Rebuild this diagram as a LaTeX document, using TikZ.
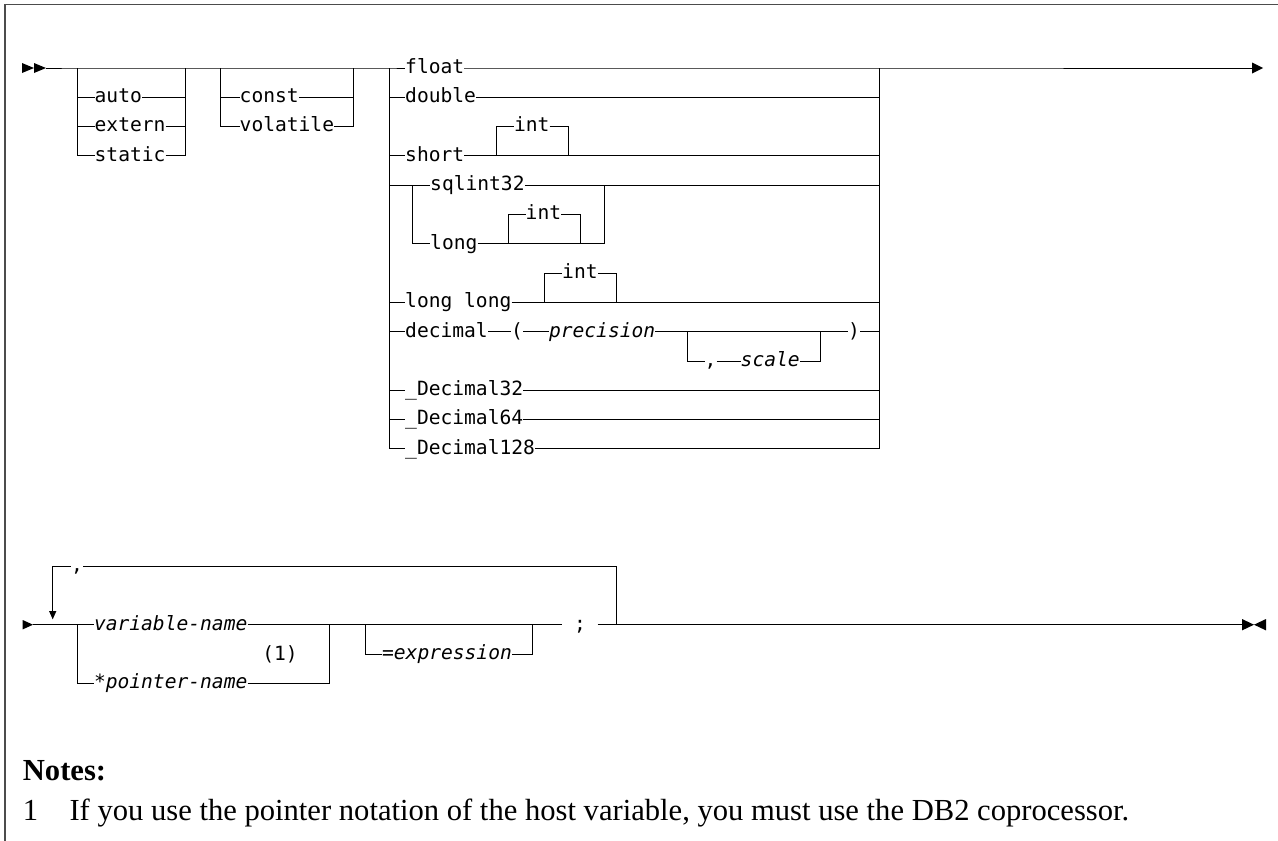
\documentclass[tikz,border=0pt]{standalone}
\usepackage{fontspec}
\setmainfont{Liberation Serif}
\newfontfamily\dmono{DejaVu Sans Mono}
\tikzset{
  rr/.style={line width=0.9pt, black},
  kw/.style={font={\dmono\fontsize{19.6}{22}\selectfont}, inner sep=0pt,
     text height=15pt, text depth=4.3pt, anchor=west},
  var/.style={kw, font={\dmono\fontsize{19.6}{22}\selectfont\itshape}},
  tipmark/.style={fill=black},
  framestyle/.style={line width=1.3pt, gray!60!black},
  notetext/.style={font={\fontsize{30.6}{36}\selectfont}, inner sep=0pt, anchor=base west},
}
\begin{document}
\begin{tikzpicture}[x=1pt,y=-1pt]
\useasboundingbox (0,0) rectangle (1278,841);
\draw[framestyle] (5,841) -- (5,4.7) -- (1278,4.7);

% ---------- upper diagram ----------
\fill[tipmark] (22,63) -- (34,68) -- (22,73) -- cycle;
\fill[tipmark] (34,63) -- (46,68) -- (34,73) -- cycle;
\coordinate (st) at (46,68);
\coordinate (g1L) at (77,68);
\coordinate (g1R) at (185,68);
\coordinate (g2L) at (220,68);
\coordinate (g2R) at (353,68);
\coordinate (g3L) at (389,68);
\coordinate (g3R) at (879,68);
\coordinate (endtop) at (1252,68);
\fill[tipmark] (1252,62.5) -- (1263,68) -- (1252,73.5) -- cycle;

% group 1
\node[kw] (auto) at (94.5,97.3) {auto};
\node[kw] (extern) at (94.5,126.6) {extern};
\node[kw] (static) at (94.5,155.9) {static};
\draw[rr] (g1L) -- (g1L |- static.west) -- (static.west);
\draw[rr] (g1L |- auto.west) -- (auto.west);
\draw[rr] (g1L |- extern.west) -- (extern.west);
\draw[rr] (static.east) -- (g1R |- static.east) -- (g1R);
\draw[rr] (auto.east) -- (g1R |- auto.east);
\draw[rr] (extern.east) -- (g1R |- extern.east);

% group 2
\node[kw] (const) at (239.5,97.3) {const};
\node[kw] (volatile) at (239.5,126.6) {volatile};
\draw[rr] (g2L) -- (g2L |- volatile.west) -- (volatile.west);
\draw[rr] (g2L |- const.west) -- (const.west);
\draw[rr] (volatile.east) -- (g2R |- volatile.east) -- (g2R);
\draw[rr] (const.east) -- (g2R |- const.east);

% group 3 texts
\node[kw] (float) at (405,68) {float};
\node[kw] (double) at (405,97.3) {double};
\node[kw] (short) at (405,155.9) {short};
\node[kw] (sint) at (513.8,126.6) {int};
\node[kw] (sqlint) at (430,185.2) {sqlint32};
\node[kw] (long) at (430,243.8) {long};
\node[kw] (lint) at (525.5,214.5) {int};
\node[kw] (longlong) at (405,302.4) {long long};
\node[kw] (llint) at (562,273.1) {int};
\node[kw] (decimal) at (405,331.7) {decimal};
\node[kw] (lp) at (511,331.7) {(};
\node[var] (prec) at (548.8,331.7) {precision};
\node[kw] (rp) at (848,331.7) {)};
\node[kw] (cm) at (704.5,361) {,};
\node[var] (scale) at (740.5,361) {scale};
\node[kw] (d32) at (405,390.3) {\_Decimal32};
\node[kw] (d64) at (405,419.6) {\_Decimal64};
\node[kw] (d128) at (405,448.9) {\_Decimal128};

% main line
\draw[rr] (st) -- (g1L) -- (g1R) -- (g2L) -- (g2R) -- (g3L) -- (float.west);
\draw[rr] (float.east) -- (g3R) -- (endtop);

% group 3 left and right rails
\draw[rr] (g3L) -- (g3L |- d128.west) -- (d128.west);
\draw[rr] (d128.east) -- (g3R |- d128.east) -- (g3R);
\foreach \n in {double,short,longlong,decimal,d32,d64}{
  \draw[rr] (g3L |- \n.west) -- (\n.west);
}
\foreach \n in {double,short,longlong,d32,d64}{
  \draw[rr] (\n.east) -- (g3R |- \n.east);
}

% short int
\coordinate (si1) at (496.7,155.9);
\coordinate (si2) at (568.3,155.9);
\draw[rr] (si1) -- (si1 |- sint.west) -- (sint.west);
\draw[rr] (sint.east) -- (si2 |- sint.east) -- (si2);

% sqlint32 / long subgroup
\coordinate (sL) at (412.3,185.2);
\coordinate (sR) at (604,185.2);
\draw[rr] (g3L |- sqlint.west) -- (sqlint.west);
\draw[rr] (sqlint.east) -- (g3R |- sqlint.east);
\draw[rr] (sL) -- (sL |- long.west) -- (long.west);
\draw[rr] (long.east) -- (sR |- long.east) -- (sR);
\coordinate (li1) at (508.3,243.8);
\coordinate (li2) at (580.7,243.8);
\draw[rr] (li1) -- (li1 |- lint.west) -- (lint.west);
\draw[rr] (lint.east) -- (li2 |- lint.east) -- (li2);

% long long int
\coordinate (lli1) at (544,302.4);
\coordinate (lli2) at (616,302.4);
\draw[rr] (lli1) -- (lli1 |- llint.west) -- (llint.west);
\draw[rr] (llint.east) -- (lli2 |- llint.east) -- (lli2);

% decimal
\draw[rr] (decimal.east) -- (lp.west);
\draw[rr] (lp.east) -- (prec.west);
\draw[rr] (prec.east) -- (rp.west);
\draw[rr] (rp.east) -- (g3R |- rp.east);
\coordinate (o1) at (687.7,331.7);
\coordinate (o2) at (820,331.7);
\draw[rr] (o1) -- (o1 |- cm.west) -- (cm.west);
\draw[rr] (cm.east) -- (scale.west);
\draw[rr] (scale.east) -- (o2 |- scale.east) -- (o2);

% ---------- lower diagram ----------
\fill[tipmark] (22.7,620) -- (33,624.7) -- (22.7,629.4) -- cycle;
\coordinate (st2) at (33,624.7);
\coordinate (gL) at (77.3,624.7);
\coordinate (gR) at (329.3,624.7);
\coordinate (eL) at (365,624.7);
\coordinate (eR) at (532.7,624.7);
\coordinate (semiL) at (561.7,624.7);
\coordinate (semiR) at (597.7,624.7);
\coordinate (loopR) at (616,624.7);
\coordinate (end2) at (1242,624.7);
\coordinate (loopTL) at (52.7,566);
\coordinate (loopTip) at (52.7,611);

\node[kw] (cm2) at (70.8,566) {,};
\node[var] (varname) at (93.8,624.7) {variable-name};
\node[var] (ptrname) at (93.8,683.3) {*pointer-name};
\node[kw, anchor=center] (fn1) at (280,655) {(1)};
\node[var] (expr) at (381.9,654) {=expression};
\node[kw, anchor=center] (semi) at (580,624.7) {;};

% repeat loop
\fill[tipmark] (49,611) -- (56.4,611) -- (52.7,619.3) -- cycle;
\draw[rr] (loopTip) -- (loopTL) -- (cm2.west);
\draw[rr] (cm2.east) -- (cm2.east -| loopR) -- (loopR);

% main line
\draw[rr] (st2) -- (gL) -- (varname.west);
\draw[rr] (varname.east) -- (gR) -- (eL) -- (eR) -- (semiL);
\draw[rr] (semiR) -- (loopR) -- (end2);
\fill[tipmark] (1242,619) -- (1254,624.7) -- (1242,630.4) -- cycle;
\fill[tipmark] (1266,619) -- (1254,624.7) -- (1266,630.4) -- cycle;

% name group
\draw[rr] (gL) -- (gL |- ptrname.west) -- (ptrname.west);
\draw[rr] (ptrname.east) -- (gR |- ptrname.east) -- (gR);

% expression group
\draw[rr] (eL) -- (eL |- expr.west) -- (expr.west);
\draw[rr] (expr.east) -- (eR |- expr.east) -- (eR);

% ---------- notes ----------
\node[notetext, font={\bfseries\fontsize{30.6}{36}\selectfont}] (notes) at (22.7,780) {Notes:};
\node[notetext] (n1) at (22.7,820) {1};
\node[notetext] (n1t) at (69.3,820) {If you use the pointer notation of the host variable, you must use the DB2 coprocessor.};
\end{tikzpicture}
\end{document}
